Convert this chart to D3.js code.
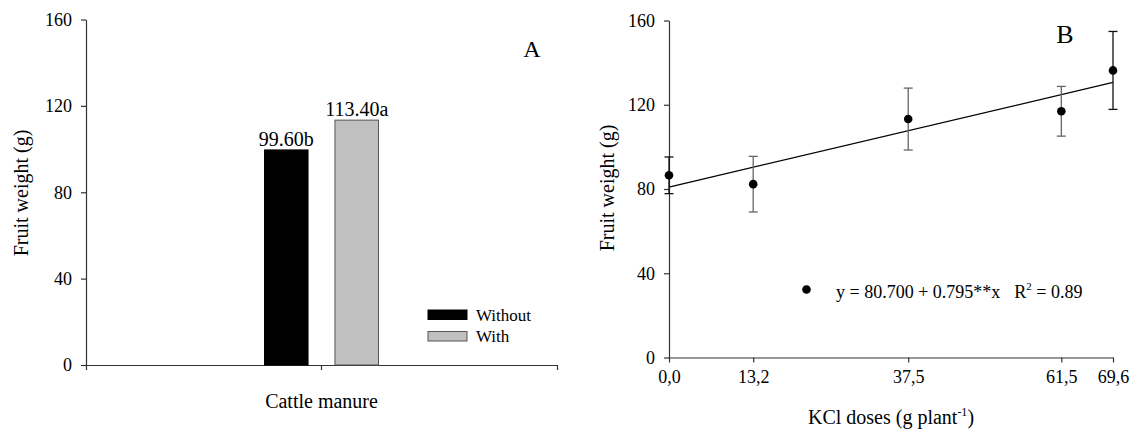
<!DOCTYPE html>
<html>
<head>
<meta charset="utf-8">
<script src="https://cdn.jsdelivr.net/npm/d3@7"></script>
<style>
  html, body { margin: 0; padding: 0; background: #fff; }
  svg, svg text { font-family: "Liberation Serif", "Times New Roman", serif; }
  svg { display: block; }
</style>
</head>
<body>
<svg id="chart" width="1131" height="430"></svg>
<script>
// Panel A: fruit weight with and without cattle manure
const manureGroups = ["Cattle manure"];
const manureSeries = ["Without", "With"];
const manureWeights = [99.60, 113.40];
const manureLabels = ["99.60b", "113.40a"];

// Panel B: fruit weight against KCl dose
const kclDoses = [0, 13.2, 37.5, 61.5, 69.6];
const kclTickLabels = ["0,0", "13,2", "37,5", "61,5", "69,6"];
const kclWeights = [86.5, 82.3, 113.2, 116.9, 136.3];
const kclErrors = [8.7, 13.2, 14.7, 11.8, 18.5];
const fitLine = [[0, 80.9], [69.6, 130.6]];

const yTicks = [0, 40, 80, 120, 160];

const svg = d3.select("#chart");
const axisColor = "#333";
const serif = "'Liberation Serif', 'Times New Roman', serif";

function styleAxis(g) {
  g.attr("font-family", null).attr("font-size", null);
  g.selectAll("path.domain").attr("stroke", axisColor).attr("stroke-width", 1.2);
  g.selectAll(".tick line").attr("stroke", axisColor).attr("stroke-width", 1.2);
  g.selectAll(".tick text").attr("fill", "#000")
    .style("font-size", "18px").style("font-family", serif);
}

// ---------- Panel A ----------
const ay = d3.scaleLinear().domain([0, 160]).range([365, 19.5]);
const ax = d3.scaleBand().domain(manureGroups).range([86, 557]);
const groupCenter = ax(manureGroups[0]) + ax.bandwidth() / 2;
const axInner = d3.scaleBand().domain(manureSeries)
  .range([groupCenter - 57, groupCenter + 57])
  .paddingInner(0.382).paddingOuter(0);
const fillA = d3.scaleOrdinal().domain(manureSeries).range(["#000", "#c0c0c0"]);
const strokeA = d3.scaleOrdinal().domain(manureSeries).range(["#000", "#555"]);

const gA = svg.append("g");

gA.append("g").attr("transform", "translate(86,0)")
  .call(d3.axisLeft(ay).tickValues(yTicks).tickSize(5).tickSizeOuter(0).tickPadding(9))
  .call(styleAxis);

gA.append("g").attr("transform", "translate(0,365)")
  .call(d3.axisBottom(ax).tickSize(5).tickSizeOuter(5).tickFormat(() => ""))
  .call(styleAxis);

gA.selectAll("rect.bar").data(manureWeights).join("rect")
  .attr("class", "bar")
  .attr("x", (d, i) => axInner(manureSeries[i]))
  .attr("width", axInner.bandwidth())
  .attr("y", d => ay(d))
  .attr("height", d => ay(0) - ay(d))
  .attr("fill", (d, i) => fillA(manureSeries[i]))
  .attr("stroke", (d, i) => strokeA(manureSeries[i]))
  .attr("stroke-width", 1);

gA.selectAll("text.barlabel").data(manureWeights).join("text")
  .attr("class", "barlabel")
  .attr("x", (d, i) => axInner(manureSeries[i]) + axInner.bandwidth() / 2)
  .attr("y", d => ay(d) - 4)
  .attr("text-anchor", "middle")
  .attr("font-size", 20)
  .text((d, i) => manureLabels[i]);

gA.append("text")
  .attr("x", groupCenter)
  .attr("y", 408)
  .attr("text-anchor", "middle")
  .attr("font-size", 20)
  .text(manureGroups[0]);

gA.append("text")
  .attr("transform", "translate(28,193) rotate(-90)")
  .attr("text-anchor", "middle")
  .attr("font-size", 20)
  .text("Fruit weight (g)");

gA.append("text").attr("x", 532).attr("y", 57)
  .attr("text-anchor", "middle").attr("font-size", 24).text("A");

// legend
const legA = gA.append("g").attr("transform", "translate(428,310)");
manureSeries.forEach((s, i) => {
  legA.append("rect").attr("x", 0).attr("y", i * 21.5)
    .attr("width", 39).attr("height", 9.5)
    .attr("fill", fillA(s)).attr("stroke", strokeA(s)).attr("stroke-width", 1);
  legA.append("text").attr("x", 48).attr("y", i * 21.5 + 10.5)
    .attr("font-size", 17).text(s);
});

// ---------- Panel B ----------
const by = d3.scaleLinear().domain([0, 160]).range([357.5, 20.5]);
const bx = d3.scaleLinear().domain([0, 69.6]).range([669, 1113]);

const gB = svg.append("g");

gB.append("g").attr("transform", "translate(669,0)")
  .call(d3.axisLeft(by).tickValues(yTicks).tickSize(5).tickSizeOuter(0).tickPadding(9))
  .call(styleAxis);

gB.append("g").attr("transform", "translate(0,357.5)")
  .call(d3.axisBottom(bx).tickValues(kclDoses).tickSize(5).tickSizeOuter(0).tickPadding(8)
    .tickFormat((d, i) => kclTickLabels[i]))
  .call(styleAxis);

// fitted regression line
gB.append("path")
  .datum(fitLine)
  .attr("d", d3.line().x(d => bx(d[0])).y(d => by(d[1])))
  .attr("fill", "none").attr("stroke", "#000").attr("stroke-width", 1.3);

// error bars
const errColor = (i) => (i === 0 || i === kclDoses.length - 1) ? "#111" : "#666";
const eb = gB.selectAll("g.err").data(kclWeights).join("g").attr("class", "err")
  .attr("stroke", (d, i) => errColor(i)).attr("stroke-width", 1.3);
eb.append("line")
  .attr("x1", (d, i) => bx(kclDoses[i])).attr("x2", (d, i) => bx(kclDoses[i]))
  .attr("y1", (d, i) => by(d + kclErrors[i])).attr("y2", (d, i) => by(d - kclErrors[i]));
eb.append("line")
  .attr("x1", (d, i) => bx(kclDoses[i]) - 4.5).attr("x2", (d, i) => bx(kclDoses[i]) + 4.5)
  .attr("y1", (d, i) => by(d + kclErrors[i])).attr("y2", (d, i) => by(d + kclErrors[i]));
eb.append("line")
  .attr("x1", (d, i) => bx(kclDoses[i]) - 4.5).attr("x2", (d, i) => bx(kclDoses[i]) + 4.5)
  .attr("y1", (d, i) => by(d - kclErrors[i])).attr("y2", (d, i) => by(d - kclErrors[i]));

// means
gB.selectAll("circle.pt").data(kclWeights).join("circle")
  .attr("class", "pt")
  .attr("cx", (d, i) => bx(kclDoses[i]))
  .attr("cy", d => by(d))
  .attr("r", 4.3)
  .attr("fill", "#000");

// equation legend
gB.append("circle").attr("cx", 806.5).attr("cy", 289.5).attr("r", 4.3).attr("fill", "#000");
const eq = gB.append("text").attr("x", 836).attr("y", 298).attr("font-size", 18);
eq.append("tspan").text("y = 80.700 + 0.795**x");
eq.append("tspan").attr("dx", 14).text("R");
eq.append("tspan").attr("dy", -8).attr("font-size", 11).text("2");
eq.append("tspan").attr("dy", 8).text(" = 0.89");

gB.append("text")
  .attr("transform", "translate(614,188) rotate(-90)")
  .attr("text-anchor", "middle")
  .attr("font-size", 20)
  .text("Fruit weight (g)");

const xt = gB.append("text").attr("x", 891).attr("y", 424)
  .attr("text-anchor", "middle").attr("font-size", 20);
xt.append("tspan").text("KCl doses (g plant");
xt.append("tspan").attr("dy", -8).attr("font-size", 12).text("-1");
xt.append("tspan").attr("dy", 8).text(")");

gB.append("text").attr("x", 1065).attr("y", 43)
  .attr("text-anchor", "middle").attr("font-size", 26).text("B");
</script>
</body>
</html>
